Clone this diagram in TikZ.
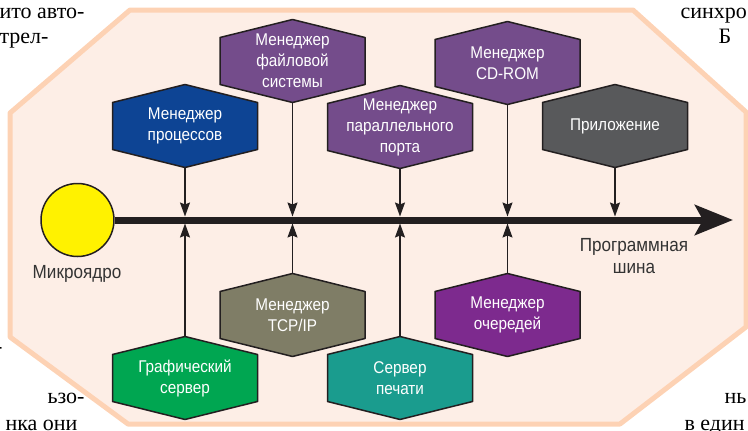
\documentclass[tikz,border=0pt]{standalone}
\usepackage{fontspec}
\setmainfont{Liberation Sans}[FakeStretch=0.9]
\newfontfamily\textserif{Liberation Serif}
\usetikzlibrary{arrows.meta}
\definecolor{fonpeach}{HTML}{FDEEE6}
\definecolor{fonedge}{HTML}{FDD2B4}
\definecolor{hexline}{HTML}{231F20}
\definecolor{labelgray}{HTML}{333333}
\definecolor{yadro}{HTML}{FFF200}
\definecolor{blueproc}{HTML}{0D4494}
\definecolor{purpman}{HTML}{744C8B}
\definecolor{grayapp}{HTML}{58595B}
\definecolor{greengr}{HTML}{00A651}
\definecolor{olivetcp}{HTML}{7F7D66}
\definecolor{tealpr}{HTML}{1A9C8E}
\definecolor{purpq}{HTML}{7D2A8E}
% shestiugolnyj modul: imya, centr, cvet, tekst
\newcommand{\hexmod}[4]{%
	\draw[fill=#3, draw=hexline, line width=1.5pt] (#2) ++(-72.5,-23.5) -- ++(72.5,-18) -- ++(72.5,18) -- ++(0,47) -- ++(-72.5,18) -- ++(-72.5,-18) -- cycle;
	\node[hexa] (#1) at (#2) {#4};}
\begin{document}
\begin{tikzpicture}[x=1pt, y=-1pt, line join=round, >=Stealth,
	hexa/.style={text=white, align=center, minimum width=145pt, minimum height=83pt, inner sep=0pt, font=\fontsize{17}{21}\selectfont},
	tick/.style={line width=1.5pt, draw=hexline, -{Stealth[length=14pt,width=10pt,inset=2pt]}, shorten >=3.5pt},
	txt/.style={text=labelgray, align=center, font=\fontsize{19}{22}\selectfont},
	page/.style={anchor=base east, text=black, font=\textserif\fontsize{22}{25}\selectfont}]
	\useasboundingbox (0,0) rectangle (748,431);
	\clip (0,0) rectangle (748,431);
	% kusochki teksta stranicy
	\node[page] (t1) at (88,18) {ито авто-};
	\node[page] (t2) at (52,43) {трел-};
	\node[page] (t3) at (6,353) {-};
	\node[page] (t4) at (88,403) {ьзо-};
	\node[page] (t5) at (81,430) {нка они};
	\node[page, anchor=base west] (t6) at (677,18) {синхро};
	\node[page, anchor=base west] (t7) at (715,43) {Б};
	\node[page, anchor=base west] (t8) at (721,403) {нь};
	\node[page, anchor=base west] (t9) at (681,430) {в един};
	% fon
	\draw[fill=fonpeach, draw=fonedge, line width=5pt] (130,10)--(633,10)--(746,112)--(746,327)--(620,424)--(128,424)--(10,337)--(10,113)--cycle;
	% yadro i shina
	\node[circle, draw=hexline, line width=1.5pt, fill=yadro, minimum size=73pt, inner sep=0pt] (yadro) at (77.5,220) {};
	\node[txt] (mikro) at (77,274) {Микроядро};
	\coordinate (busend) at (733,220);
	\draw[line width=7pt, draw=hexline, -{Stealth[length=38pt,width=30pt,inset=8pt]}] (yadro.east) -- (busend);
	\node[txt] (shina) at (634,256) {Программная\\шина};
	% moduli sverhu
	\hexmod{proc}{185,126}{blueproc}{Менеджер\\процессов}
	\hexmod{fs}{292.5,61}{purpman}{Менеджер\\файловой\\системы}
	\hexmod{par}{400,127}{purpman}{Менеджер\\параллельного\\порта}
	\hexmod{cd}{507.5,63}{purpman}{Менеджер\\CD-ROM}
	\hexmod{app}{615,126}{grayapp}{Приложение}
	% moduli snizu
	\hexmod{graf}{185,378}{greengr}{Графический\\сервер}
	\hexmod{tcp}{292.5,315}{olivetcp}{Менеджер\\TCP/IP}
	\hexmod{print}{400,378}{tealpr}{Сервер\\печати}
	\hexmod{queue}{507.5,315}{purpq}{Менеджер\\очередей}
	% strelki
	\foreach \n in {proc,fs,par,cd,app}
		\draw[tick] (\n.south) -- (\n.south |- busend);
	\foreach \n in {graf,tcp,print,queue}
		\draw[tick] (\n.north) -- (\n.north |- busend);
\end{tikzpicture}
\end{document}
